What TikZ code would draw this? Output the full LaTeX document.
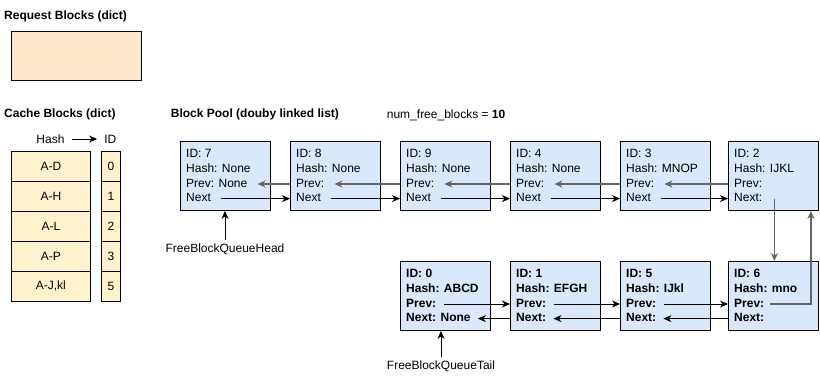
\documentclass[tikz,border=0pt]{standalone}
\usepackage{fontspec}
\setmainfont{Liberation Sans}
\usetikzlibrary{arrows.meta,calc}
\definecolor{blockfill}{HTML}{DAE8FC}
\definecolor{cachefill}{HTML}{FFF2CC}
\definecolor{reqfill}{HTML}{FFE6CC}
\definecolor{linkgray}{HTML}{666666}
\newcommand\mkblock[8]{%
  \node[blockbox] (b#1) at (#2,#3) {};
  \node[linetxt,font=\fontsize{12}{14}\selectfont#4] (i#1) at ($(b#1.north west)+(6,13.6)$) {#5};
  \node[linetxt,font=\fontsize{12}{14}\selectfont#4] (h#1) at ($(b#1.north west)+(6,28.3)$) {#6};
  \node[linetxt,font=\fontsize{12}{14}\selectfont#4] (p#1) at ($(b#1.north west)+(6,43)$) {#7};
  \node[linetxt,font=\fontsize{12}{14}\selectfont#4] (n#1) at ($(b#1.north west)+(6,57.6)$) {#8};
}
\begin{document}
\begin{tikzpicture}[x=1pt,y=-1pt,
  every node/.style={font=\fontsize{12}{14}\selectfont, inner sep=0pt},
  blockbox/.style={draw=black, fill=blockfill, minimum width=90pt, minimum height=69pt, anchor=north west, line width=0.9pt},
  linetxt/.style={anchor=west, text height=9pt, text depth=3pt},
  header/.style={anchor=west, font=\fontsize{12}{14}\selectfont\bfseries},
  cachecell/.style={draw=black, fill=cachefill, anchor=north west, minimum height=30pt, line width=0.9pt},
  arr/.style={-{Stealth[length=8pt,width=7pt,inset=2.5pt]}, line width=0.9pt},
  grayarr/.style={arr, draw=linkgray, line width=1.9pt},
  varr/.style={arr, draw=linkgray, line width=1.3pt}
]
\useasboundingbox (0,0) rectangle (820,381);

% headers
\node[header] (hreq) at (4,16) {Request Blocks (dict)};
\node[header] (hcache) at (4,114.3) {Cache Blocks (dict)};
\node[header] (hpool) at (170.7,114.3) {Block Pool (douby linked list)};
\node[anchor=west] (nfree) at (386.7,115.7) {num\_free\_blocks = \textbf{10}};

% request blocks
\node[draw=black, fill=reqfill, anchor=north west, minimum width=130pt, minimum height=49.5pt, line width=0.9pt] (req) at (10.5,30.5) {};

% cache blocks
\node[inner xsep=7pt] (hashlbl) at (50.5,139) {Hash};
\node[inner xsep=7pt] (idlbl) at (110.3,139) {ID};
\draw[arr] (hashlbl.east) -- (idlbl.west);
\foreach \k/\h/\d in {0/A-D/0,1/A-H/1,2/A-L/2,3/A-P/3,4/{A-J,kl}/5}{
  \node[cachecell, minimum width=79.5pt] (ch\k) at (10.7,150.7+30*\k) {\h};
  \node[cachecell, minimum width=19.5pt] (cd\k) at (100.7,150.7+30*\k) {\d};
}

% top row
\mkblock{7}{180}{141}{}{ID: 7}{Hash: None}{Prev: None}{Next}
\mkblock{8}{290}{141}{}{ID: 8}{Hash: None}{Prev:}{Next}
\mkblock{9}{400}{141}{}{ID: 9}{Hash: None}{Prev:}{Next}
\mkblock{4}{510}{141}{}{ID: 4}{Hash: None}{Prev:}{Next}
\mkblock{3}{620}{141}{}{ID: 3}{Hash: MNOP}{Prev:}{Next}
\mkblock{2}{728}{141}{}{ID: 2}{Hash: IJKL}{Prev:}{Next:}

% bottom row
\mkblock{0}{400}{261}{\bfseries}{ID: 0}{Hash: ABCD}{Prev:}{Next: None}
\mkblock{1}{510}{261}{\bfseries}{ID: 1}{Hash: EFGH}{Prev:}{Next:}
\mkblock{5}{620}{261}{\bfseries}{ID: 5}{Hash: IJkl}{Prev:}{Next:}
\mkblock{6}{728}{261}{\bfseries}{ID: 6}{Hash: mno}{Prev:}{Next:}

% top row links
\foreach \a/\b in {7/8,8/9,9/4,4/3,3/2}{
  \draw[arr] ([xshift=10pt]n\a.east) -- (b\b.west |- n\a.east);
  \draw[grayarr] (b\b.west |- p\b.west) -- ([xshift=10pt]p\a.east);
}

% bottom row links
\foreach \a/\b in {0/1,1/5,5/6}{
  \draw[arr] ([xshift=8pt]p\a.east) -- (b\b.west |- p\a.east);
  \draw[arr] (b\b.west |- n\b.west) -- ([xshift=7pt]n\a.east);
}

% vertical links
\coordinate (dn) at ([xshift=12pt]n2.east);
\draw[varr] (dn) -- (dn |- b6.north);
\coordinate (upx) at ([xshift=-8pt]b2.south east);
\draw[varr] ([xshift=6pt]p6.east) -| (upx);

% queue head / tail
\node (qhead) at (225,249.3) {FreeBlockQueueHead};
\draw[arr] ([yshift=4pt]qhead.north) -- (qhead.north |- b7.south);
\node (qtail) at (441,366.7) {FreeBlockQueueTail};
\draw[arr] ([yshift=4pt]qtail.north) -- (qtail.north |- b0.south);
\end{tikzpicture}
\end{document}
